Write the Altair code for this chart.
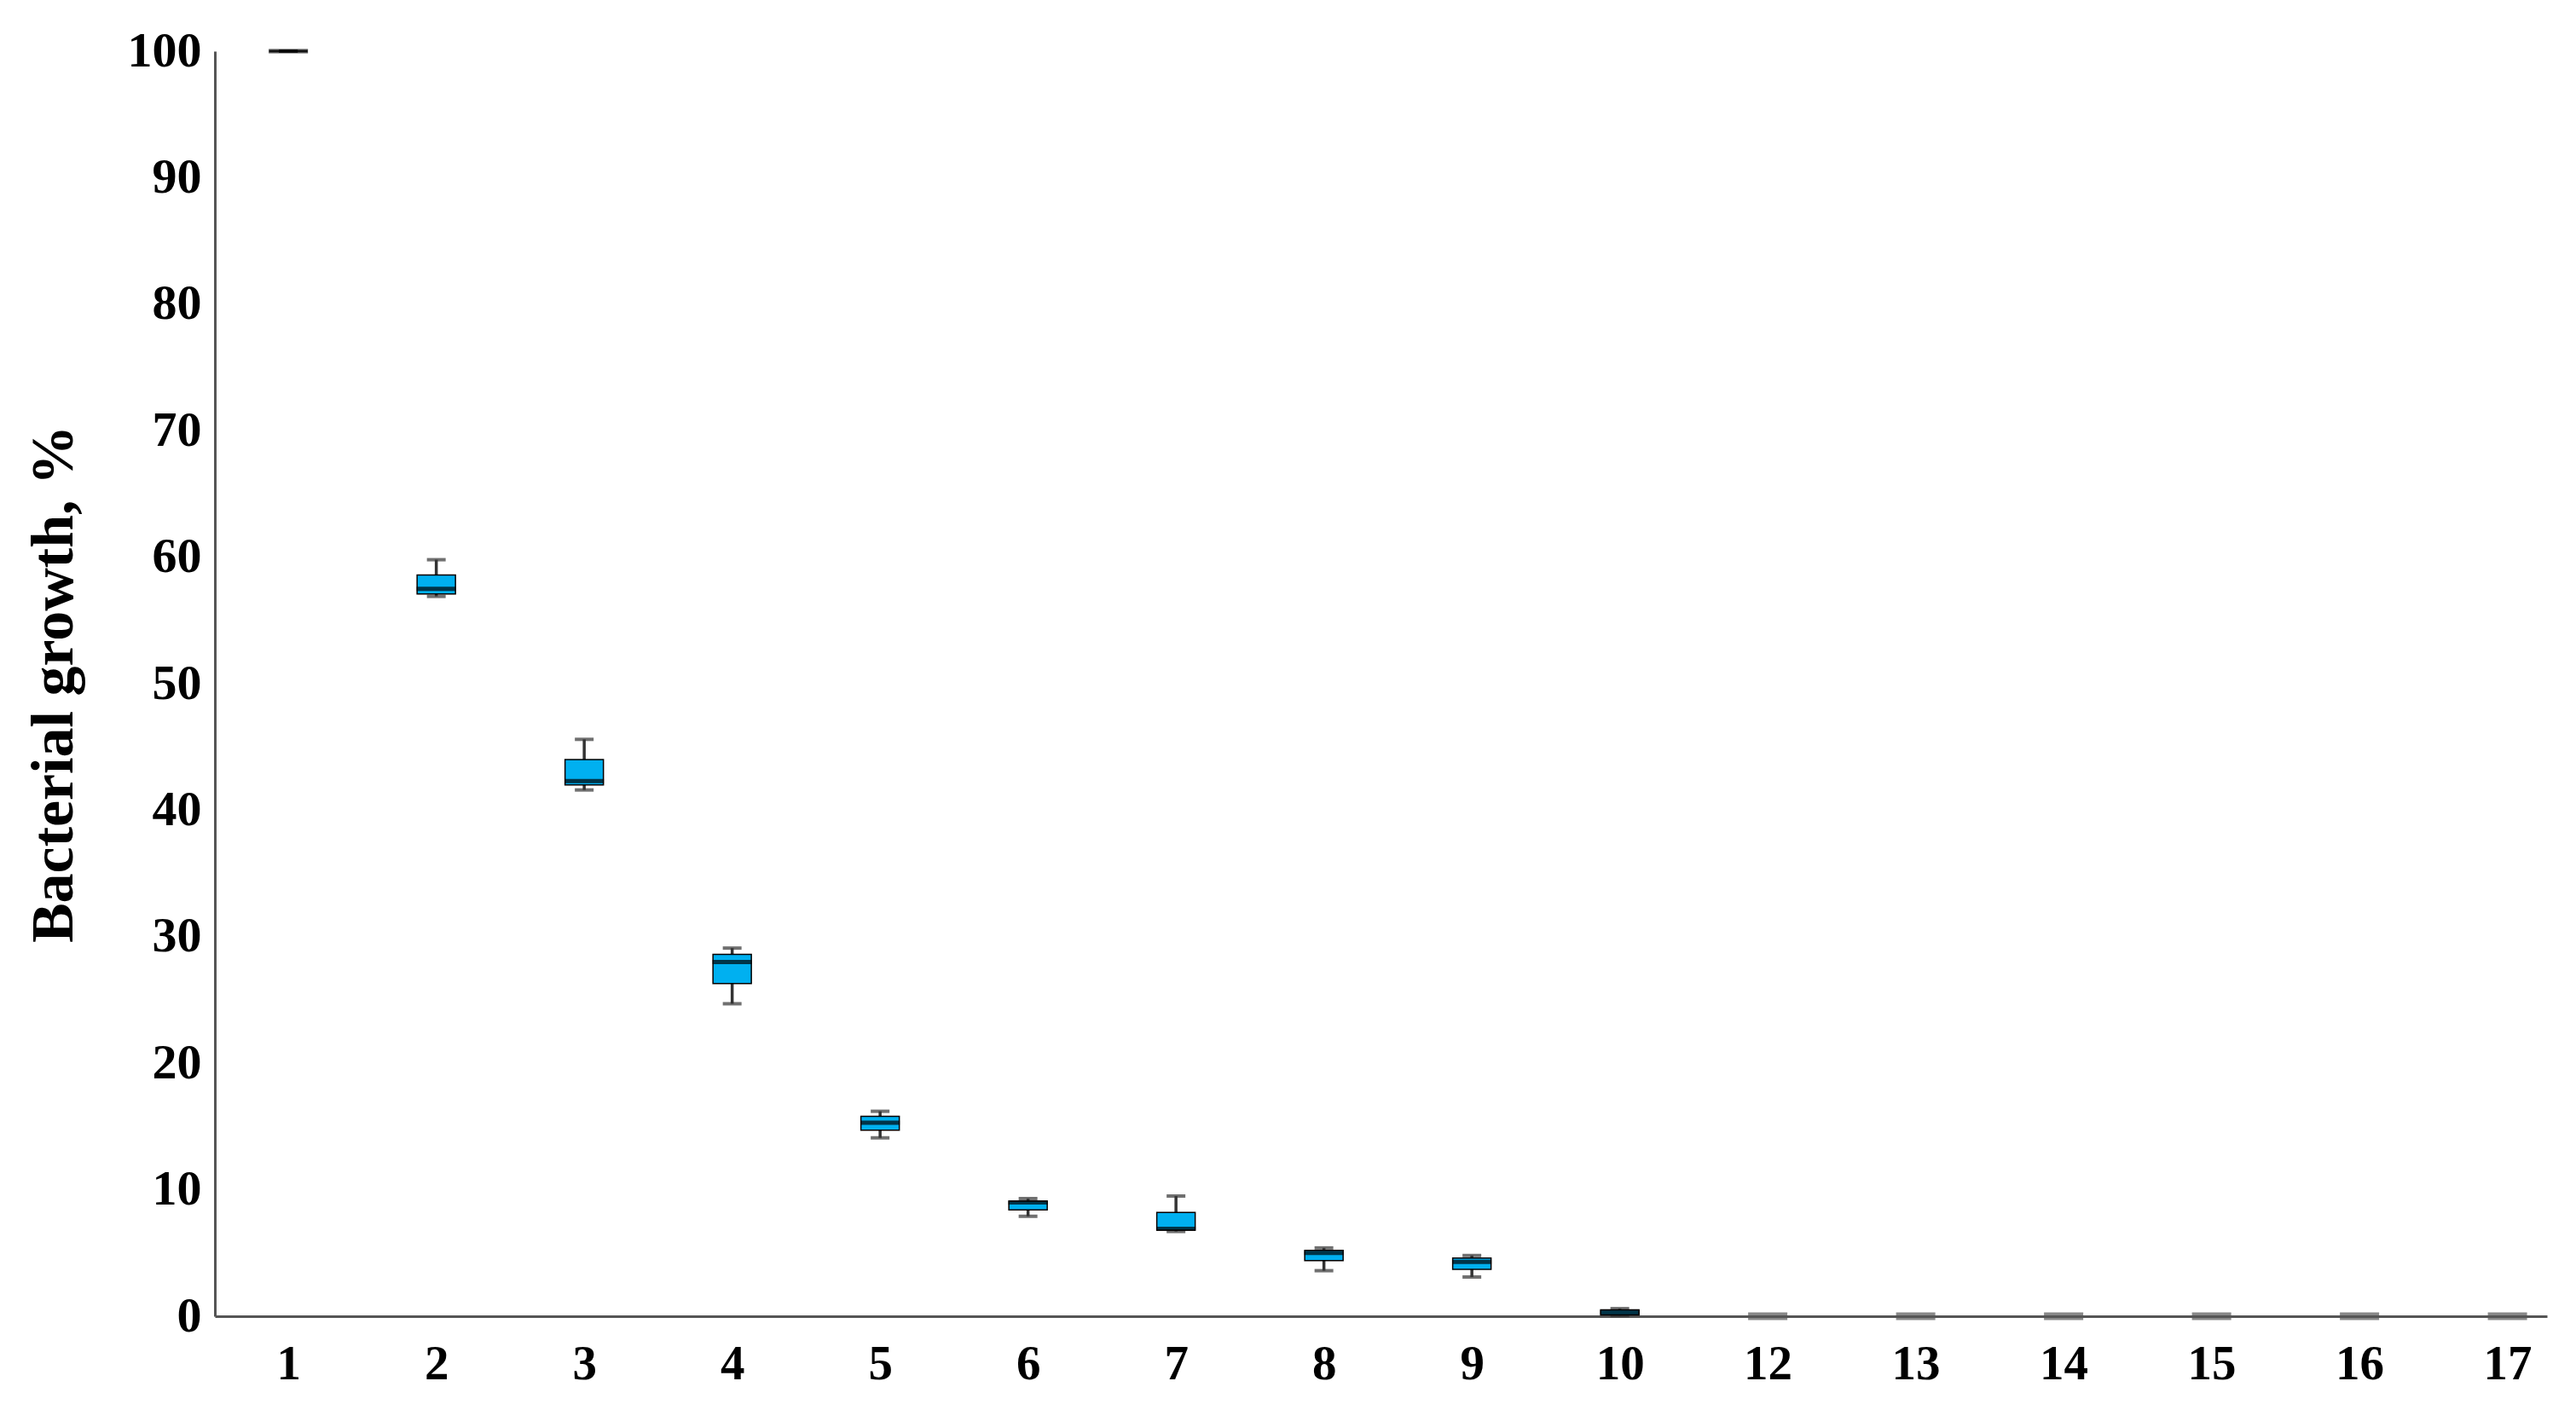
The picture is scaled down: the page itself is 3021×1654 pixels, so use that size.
import altair as alt
import pandas as pd

groups = ["1", "2", "3", "4", "5", "6", "7", "8", "9", "10", "12", "13", "14", "15", "16", "17"]
whisker_low = [100, 56.9, 41.6, 24.7, 14.1, 7.9, 6.7, 3.6, 3.1, 0.05, 0, 0, 0, 0, 0, 0]
q1 = [100, 57.1, 42.0, 26.3, 14.7, 8.4, 6.8, 4.4, 3.7, 0.1, 0, 0, 0, 0, 0, 0]
median = [100, 57.5, 42.3, 28.0, 15.3, 9.0, 6.9, 5.0, 4.3, 0.3, 0, 0, 0, 0, 0, 0]
q3 = [100, 58.6, 44.0, 28.6, 15.8, 9.1, 8.2, 5.2, 4.6, 0.5, 0, 0, 0, 0, 0, 0]
whisker_high = [100, 59.8, 45.6, 29.1, 16.2, 9.3, 9.5, 5.4, 4.8, 0.6, 0, 0, 0, 0, 0, 0]
y_ticks = list(range(0, 101, 10))

df = pd.DataFrame({
    "group": groups, "lo": whisker_low, "q1": q1, "med": median, "q3": q3, "hi": whisker_high,
})

FONT = "Liberation Serif"

x_enc = alt.X(
    "group:N", sort=groups,
    scale=alt.Scale(type="point", padding=0.382, align=0.65),
    axis=alt.Axis(title=None, labelAngle=0, labelFont=FONT, labelFontWeight="bold",
                  labelFontSize=57, labelColor="black", labelPadding=28,
                  ticks=False, tickSize=0, domainColor="#555555", domainWidth=3,
                  grid=False),
)
y_scale = alt.Scale(domain=[0, 100], nice=False, zero=True)
y_axis = alt.Axis(values=y_ticks, title="Bacterial growth, %", titleFont=FONT,
                  titleFontWeight="bold", titleFontSize=70, titleColor="black",
                  titlePadding=50, labelFont=FONT, labelFontWeight="bold",
                  labelFontSize=58, labelColor="black", labelPadding=16,
                  ticks=False, tickSize=0, domainColor="#555555", domainWidth=3,
                  grid=False)

base = alt.Chart(df)
nonzero = base.transform_filter("datum.hi > 0")

whisker = nonzero.mark_rule(color="#333333", strokeWidth=3.5).encode(
    x=x_enc,
    y=alt.Y("lo:Q", scale=y_scale, axis=y_axis),
    y2="hi:Q",
)
cap_low = nonzero.mark_tick(color="#333333", size=22, thickness=4).encode(
    x=x_enc, y=alt.Y("lo:Q", scale=y_scale, axis=y_axis))
cap_high = nonzero.mark_tick(color="#333333", size=22, thickness=4).encode(
    x=x_enc, y=alt.Y("hi:Q", scale=y_scale, axis=y_axis))
box = nonzero.mark_bar(size=45, fill="#00B0F0", stroke="black", strokeWidth=1.5).encode(
    x=x_enc, y=alt.Y("q1:Q", scale=y_scale, axis=y_axis), y2="q3:Q")
med = nonzero.mark_tick(color="black", size=46, thickness=5).encode(
    x=x_enc, y=alt.Y("med:Q", scale=y_scale, axis=y_axis))
zero_marks = base.transform_filter("datum.hi == 0").mark_tick(
    color="#555555", size=46, thickness=9).encode(
    x=x_enc, y=alt.Y("med:Q", scale=y_scale, axis=y_axis))

chart = alt.layer(whisker, cap_low, cap_high, box, med, zero_marks).properties(
    width=2735, height=1484,
    background="white",
    padding={"left": 20, "top": 23, "right": 5, "bottom": 5},
).configure_view(stroke=None, strokeWidth=0)

chart.save("out.html", embed_options={"renderer": "svg", "actions": False})
